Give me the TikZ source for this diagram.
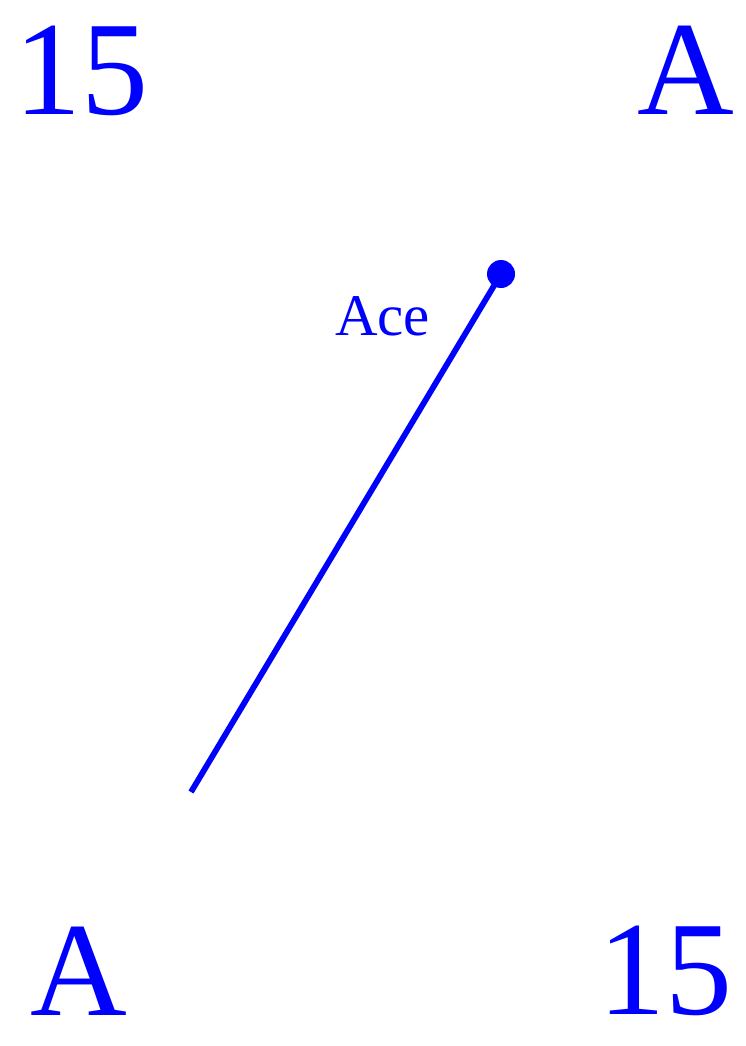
\documentclass[tikz,border=0pt]{standalone}
\usepackage{fontspec}
\setmainfont{Liberation Serif}
\usepackage{tikz}
\usetikzlibrary{positioning,calc}
\definecolor{cardblue}{RGB}{0,0,255}

\begin{document}
\begin{tikzpicture}[x=1pt, y=-1pt, corner/.style={text=cardblue, inner sep=0pt, text depth=0pt, anchor=base west, font=\fontsize{134}{134}\selectfont}, pinlabel/.style={text=cardblue, inner sep=0pt, anchor=base west, font=\fontsize{59}{59}\selectfont}, pin/.style={circle, fill=cardblue, inner sep=0pt, minimum size=28pt}, hand/.style={draw=cardblue, line width=5.8pt}]
\useasboundingbox (0,0) rectangle (745,1046);
\node[corner] (rankTL) at (14,114) {15};
\node[corner] (suitTR) at (637.6,114) {A};
\node[corner] (suitBL) at (30.6,1015) {A};
\node[corner] (rankBR) at (598,1014) {15};
\node[pin] (tip) at (501,274) {};
\coordinate (tail) at (191,792);
\draw[hand] (tip.center) -- (tail);
\node[pinlabel] (ace) at (335,335) {Ace};
\end{tikzpicture}
\end{document}
